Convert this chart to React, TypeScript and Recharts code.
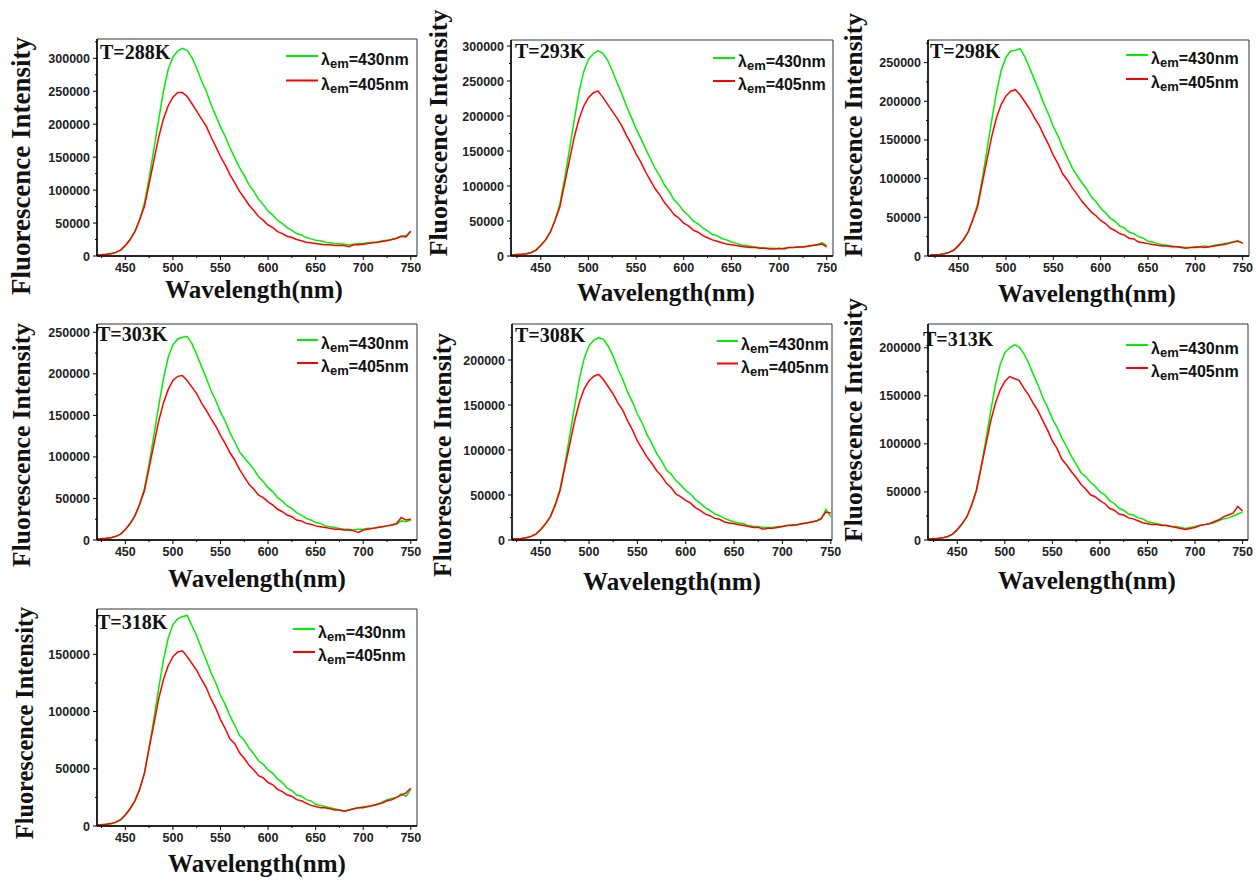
import React from 'react';
import { LineChart, Line, XAxis, YAxis, ReferenceArea, Legend } from 'recharts';

// Wavelength grid (nm)
const WAVELENGTHS = [
  420, 425, 430, 435, 440, 445, 450, 455, 460, 465,
  470, 475, 480, 485, 490, 495, 500, 505, 510, 515,
  520, 525, 530, 535, 540, 545, 550, 555, 560, 565,
  570, 575, 580, 585, 590, 595, 600, 605, 610, 615,
  620, 625, 630, 635, 640, 645, 650, 655, 660, 665,
  670, 675, 680, 685, 690, 695, 700, 705, 710, 715,
  720, 725, 730, 735, 740, 745, 750,
];

// Intensities in units of 1000 counts
const G288 = [
  1.5, 2, 2.5, 3.5, 5.5, 9, 16, 25, 37, 55,
  80, 118, 162, 207, 250, 283, 302, 311, 315, 312,
  301, 285, 266, 250, 230, 213, 196, 181, 164, 149,
  134, 122, 108, 98, 86, 78, 68, 62, 54, 49,
  43, 39, 34, 32, 28, 26, 24, 23, 21, 20,
  19, 18.5, 18, 17, 18, 19, 19, 20, 21, 21,
  23, 24, 25, 27, 30, 31, 37,
];
const R288 = [
  1.5, 2, 2.5, 3.5, 5.5, 9, 16, 25, 37, 55,
  75, 110, 145, 180, 208, 228, 241, 248, 248, 242,
  231, 220, 208, 197, 181, 166, 151, 138, 123, 111,
  98, 88, 77, 69, 60, 54, 47, 43, 37, 34,
  30, 28, 25, 23, 21, 20, 19, 18, 17, 17,
  16, 16, 16, 14, 17, 17, 18, 19, 20, 21,
  22, 23, 25, 27, 30, 29, 38,
];
const G293 = [
  1.5, 2, 2.5, 3, 5, 8.5, 15, 23, 34, 51,
  74, 110, 151, 193, 233, 263, 281, 289, 293, 290,
  280, 265, 248, 232, 214, 198, 182, 168, 153, 139,
  125, 114, 101, 92, 80, 73, 64, 58, 50, 46,
  40, 36, 31, 29, 25, 23, 20, 18, 16, 15,
  14, 13, 12, 11.5, 11, 11, 10, 11, 12, 12,
  13, 13, 14, 15, 16, 19, 15,
];
const R293 = [
  1.5, 2, 2.5, 3.3, 5, 8.5, 15, 23, 34, 51,
  70, 103, 136, 169, 195, 214, 226, 233, 236, 227,
  217, 207, 197, 186, 172, 160, 146, 134, 120, 108,
  96, 87, 76, 68, 59, 54, 47, 43, 37, 34,
  29, 26, 23, 21, 19, 17, 16, 15, 14, 13,
  12, 12, 11, 11, 10, 10, 11, 10, 12, 12,
  13, 13, 14, 15, 16, 17, 13,
];
const G298 = [
  1.3, 1.6, 2.1, 3, 4.8, 7.8, 13.7, 21, 31, 47,
  68, 100, 138, 176, 212, 240, 257, 265, 266, 268,
  257, 243, 228, 213, 197, 183, 167, 155, 140, 127,
  114, 104, 95, 87, 77, 70, 62, 56, 49, 45,
  39, 36, 31, 29, 25, 23, 19, 18, 16, 15,
  14, 13, 12, 12, 11, 11, 12, 12, 13, 12,
  14, 15, 16, 17, 18, 20, 16,
];
const R298 = [
  1.3, 1.7, 2.1, 3, 4.7, 7.7, 13.7, 21, 31, 47,
  64, 95, 125, 155, 179, 196, 207, 213, 215, 208,
  199, 190, 179, 169, 156, 144, 130, 119, 106, 98,
  88, 80, 71, 64, 57, 52, 46, 42, 36, 33,
  29, 27, 23, 22, 18, 17, 16, 15, 14, 13,
  13, 12, 12, 11, 10, 11, 11, 12, 11, 12,
  13, 14, 15, 16, 18, 19, 17,
];
const G303 = [
  1.2, 1.5, 2, 2.7, 4.4, 7, 12.5, 19.6, 29, 43,
  62, 92, 126, 161, 194, 220, 235, 242, 244, 245,
  236, 223, 209, 195, 180, 168, 154, 143, 129, 118,
  106, 99, 92, 85, 76, 70, 63, 58, 51, 47,
  41, 38, 33, 30, 26, 24, 21, 20, 17, 16,
  15, 14, 13, 13, 12, 13, 13, 14, 14, 15,
  16, 17, 18, 19, 23, 22, 24,
];
const R303 = [
  1.2, 1.6, 2, 2.8, 4.4, 7.1, 12.7, 19.8, 29, 43,
  59, 87, 115, 143, 165, 181, 192, 197, 198, 192,
  184, 176, 165, 156, 146, 137, 126, 116, 105, 96,
  85, 76, 67, 61, 54, 51, 46, 42, 37, 34,
  30, 28, 24, 23, 20, 19, 17, 16, 15, 14,
  13, 13, 12, 12, 11, 9, 12, 13, 14, 15,
  16, 17, 18, 20, 27, 24, 25,
];
const G308 = [
  1.2, 1.4, 1.8, 2.5, 4, 6.5, 11.5, 18, 26, 39,
  57, 84, 116, 148, 179, 202, 216, 222, 225, 223,
  215, 204, 190, 178, 164, 153, 140, 130, 117, 107,
  96, 88, 78, 73, 66, 61, 55, 51, 45, 41,
  36, 33, 29, 27, 24, 22, 20, 19, 18, 16,
  15, 15, 14, 14, 14, 15, 15, 16, 17, 17,
  18, 19, 20, 21, 23, 34, 26,
];
const R308 = [
  1.1, 1.5, 1.8, 2.5, 4, 6.6, 11.6, 18, 26, 39,
  55, 81, 106, 132, 153, 168, 177, 182, 184, 178,
  170, 162, 152, 144, 132, 122, 110, 101, 92, 85,
  77, 71, 63, 58, 51, 48, 44, 41, 36, 33,
  29, 27, 24, 23, 20, 19, 18, 17, 16, 15,
  14, 14, 12, 13, 13, 14, 15, 16, 16, 17,
  18, 19, 20, 21, 24, 31, 30,
];
const G313 = [
  1, 1.2, 1.6, 2.2, 3.6, 5.9, 10.4, 16, 24, 36,
  52, 76, 104, 133, 161, 182, 195, 200, 203, 201,
  194, 184, 172, 161, 148, 138, 126, 117, 106, 97,
  87, 79, 70, 66, 60, 56, 50, 47, 41, 38,
  33, 31, 27, 26, 23, 22, 19, 18, 17, 16,
  15, 14, 14, 13, 12, 13, 14, 15, 16, 17,
  18, 20, 22, 23, 25, 27, 29,
];
const R313 = [
  1, 1.3, 1.7, 2.4, 3.7, 6.1, 10.9, 17, 24, 36,
  51, 75, 99, 123, 142, 156, 165, 170, 168, 166,
  158, 151, 142, 134, 124, 114, 103, 95, 84, 78,
  71, 65, 58, 53, 47, 45, 41, 38, 33, 31,
  27, 26, 23, 22, 20, 18, 17, 16, 16, 15,
  15, 14, 13, 12, 11, 12, 13, 15, 16, 17,
  19, 21, 24, 26, 28, 35, 30,
];
const G318 = [
  0.9, 1.1, 1.5, 2, 3.3, 5.3, 9.3, 14.6, 21.6, 32,
  46, 69, 94, 120, 145, 164, 176, 181, 183, 184,
  175, 166, 155, 145, 134, 125, 114, 106, 96, 88,
  79, 75, 68, 63, 57, 54, 49, 46, 41, 38,
  33, 31, 27, 26, 23, 22, 19, 18, 17, 16,
  15, 14, 13, 14, 15, 16, 17, 17, 18, 19,
  21, 23, 24, 25, 28, 26, 32,
];
const R318 = [
  0.9, 1.2, 1.5, 2.1, 3.4, 5.5, 9.8, 15.3, 22, 32,
  46, 68, 89, 111, 128, 140, 148, 152, 153, 148,
  142, 136, 128, 121, 111, 103, 93, 85, 76, 72,
  64, 59, 53, 49, 44, 42, 38, 36, 32, 30,
  27, 26, 23, 22, 20, 18, 17, 16, 16, 15,
  14, 14, 13, 14, 15, 16, 16, 17, 18, 19,
  20, 22, 23, 25, 27, 29, 33,
];

const TEMPERATURE_LABELS = ['T=288K', 'T=293K', 'T=298K', 'T=303K', 'T=308K', 'T=313K', 'T=318K'];
const SERIES_NAMES = ['λem=430nm', 'λem=405nm'];
const X_TICKS = [425, 450, 475, 500, 525, 550, 575, 600, 625, 650, 675, 700, 725, 750];
const Y_TICK_CANDIDATES = [
  0, 25000, 50000, 75000, 100000, 125000, 150000, 175000, 200000,
  225000, 250000, 275000, 300000, 325000,
];
const X_TITLE = 'Wavelength(nm)';
const Y_TITLE = 'Fluorescence Intensity';

const GREEN = '#00ee00';
const RED = '#ff0000';
const SANS = "'Liberation Sans', Arial, sans-serif";
const SERIF = "'Liberation Serif', 'Times New Roman', serif";

const ML = 90;
const MT = 10;
const MR = 14;
const MB = 50;
const YAXIS_W = 60;
const XAXIS_H = 30;

type PanelLayout = {
  box: { l: number; t: number; r: number; b: number };
  xDomain: [number, number];
  yMax: number;
  legend: { x: number; y: number; len: number; gap: number };
  tLabel: { x: number; y: number };
  xTitle: { cx: number; y: number };
  yTitle: { x: number; cy: number; size: number };
};

const LAYOUTS: PanelLayout[] = [
  { box: { l: 97, t: 39, r: 417, b: 256 }, xDomain: [420.2, 756.5], yMax: 329300,
    legend: { x: 286, y: 56, len: 32, gap: 24.5 }, tLabel: { x: 100, y: 59 },
    xTitle: { cx: 254, y: 298 }, yTitle: { x: 30, cy: 166, size: 27 } },
  { box: { l: 511, t: 40, r: 833, b: 256 }, xDomain: [418.8, 756.6], yMax: 308600,
    legend: { x: 713, y: 57.5, len: 22, gap: 23 }, tLabel: { x: 515, y: 58 },
    xTitle: { cx: 666, y: 301 }, yTitle: { x: 447, cy: 133, size: 25.8 } },
  { box: { l: 928, t: 40, r: 1249, b: 256 }, xDomain: [417.6, 756.7], yMax: 279200,
    legend: { x: 1126, y: 55, len: 22, gap: 24 }, tLabel: { x: 930, y: 58 },
    xTitle: { cx: 1087, y: 302 }, yTitle: { x: 862, cy: 135, size: 25.5 } },
  { box: { l: 97, t: 324, r: 417, b: 540 }, xDomain: [420.2, 756.5], yMax: 260000,
    legend: { x: 297, y: 340, len: 21, gap: 23 }, tLabel: { x: 97, y: 341 },
    xTitle: { cx: 257, y: 587 }, yTitle: { x: 30, cy: 445, size: 25.5 } },
  { box: { l: 512, t: 324, r: 832, b: 540 }, xDomain: [420.3, 751.3], yMax: 240000,
    legend: { x: 717, y: 341, len: 21, gap: 22.5 }, tLabel: { x: 515, y: 342 },
    xTitle: { cx: 672, y: 590 }, yTitle: { x: 451, cy: 455, size: 25.5 } },
  { box: { l: 928, t: 324, r: 1248, b: 540 }, xDomain: [419.2, 755.7], yMax: 224700,
    legend: { x: 1126, y: 345, len: 22, gap: 23 }, tLabel: { x: 923, y: 346 },
    xTitle: { cx: 1087, y: 589 }, yTitle: { x: 862, cy: 420, size: 25.5 } },
  { box: { l: 97, t: 609, r: 417, b: 826 }, xDomain: [420.2, 756.5], yMax: 189600,
    legend: { x: 293, y: 629, len: 22, gap: 23 }, tLabel: { x: 97, y: 629 },
    xTitle: { cx: 257, y: 872 }, yTitle: { x: 33, cy: 723, size: 24.3 } },
];

const SERIES: [number[], number[]][] = [
  [G288, R288], [G293, R293], [G298, R298], [G303, R303],
  [G308, R308], [G313, R313], [G318, R318],
];

const XTick = (props: any) => {
  const { x, y, payload } = props;
  const v = payload.value;
  const major = v % 50 === 0;
  return (
    <g>
      <line x1={x} x2={x} y1={y} y2={y + (major ? 4 : 2)} stroke="#000" strokeWidth={1} />
      {major && (
        <text x={x} y={y + 16} textAnchor="middle" fontSize={12.5} fontWeight="bold" fontFamily={SANS} fill="#222">
          {v}
        </text>
      )}
    </g>
  );
};

const YTick = (props: any) => {
  const { x, y, payload } = props;
  const v = payload.value;
  const major = v % 50000 === 0;
  return (
    <g>
      <line x1={x - (major ? 4 : 2)} x2={x} y1={y} y2={y} stroke="#000" strokeWidth={1} />
      {major && (
        <text x={x - 7} y={y + 4.5} textAnchor="end" fontSize={12.5} fontWeight="bold" fontFamily={SANS} fill="#222">
          {v}
        </text>
      )}
    </g>
  );
};

const makeLegend = (len: number, gap: number) => (props: any) => {
  const items = [...(props.payload || [])].sort((a: any, b: any) =>
    (a.dataKey === 'g' ? 0 : 1) - (b.dataKey === 'g' ? 0 : 1),
  );
  return (
    <svg width={len + 100} height={gap + 24} style={{ display: 'block', overflow: 'visible' }}>
      {items.map((it: any, i: number) => {
        const name = String(it.value);
        return (
          <g key={i}>
            <line x1={0} x2={len} y1={7 + i * gap} y2={7 + i * gap} stroke={it.color} strokeWidth={2} />
            <text x={len + 3} y={16 + i * gap} fontFamily={SANS} fontWeight="bold" fontSize={16} fill="#111">
              <tspan>{name.slice(0, 1)}</tspan>
              <tspan fontSize={13} dy={3}>{name.slice(1, 3)}</tspan>
              <tspan dy={-3}>{name.slice(3)}</tspan>
            </text>
          </g>
        );
      })}
    </svg>
  );
};

const Panel = ({ index }: { index: number }) => {
  const lay = LAYOUTS[index];
  const [green, red] = SERIES[index];
  const rows = WAVELENGTHS.map((w, i) => ({ w, g: green[i] * 1000, r: red[i] * 1000 }));
  const w = lay.box.r - lay.box.l;
  const h = lay.box.b - lay.box.t;
  const yTicks = Y_TICK_CANDIDATES.filter((v) => v <= lay.yMax);
  return (
    <div style={{ position: 'absolute', left: lay.box.l - ML, top: lay.box.t - MT }}>
      <LineChart
        width={w + ML + MR}
        height={h + MT + MB}
        data={rows}
        margin={{ top: MT, left: ML - YAXIS_W, right: MR, bottom: MB - XAXIS_H }}
      >
        <XAxis
          dataKey="w"
          type="number"
          domain={lay.xDomain}
          ticks={X_TICKS}
          interval={0}
          allowDataOverflow
          tick={(p: any) => <XTick {...p} />}
          tickLine={false}
          tickSize={0}
          tickMargin={0}
          height={XAXIS_H}
          axisLine={{ stroke: '#000', strokeWidth: 1.5 }}
        />
        <YAxis
          type="number"
          domain={[0, lay.yMax]}
          ticks={yTicks}
          interval={0}
          allowDataOverflow
          tick={(p: any) => <YTick {...p} />}
          tickLine={false}
          tickSize={0}
          tickMargin={0}
          width={YAXIS_W}
          axisLine={{ stroke: '#000', strokeWidth: 1.5 }}
        />
        <ReferenceArea
          x1={lay.xDomain[0]}
          x2={lay.xDomain[1]}
          y1={0}
          y2={lay.yMax}
          fill="none"
          fillOpacity={0}
          stroke="#333"
          strokeWidth={1}
        />
        <Line type="linear" dataKey="g" name={SERIES_NAMES[0]} stroke={GREEN} strokeWidth={1.5} dot={false} isAnimationActive={false} />
        <Line type="linear" dataKey="r" name={SERIES_NAMES[1]} stroke={RED} strokeWidth={1.5} dot={false} isAnimationActive={false} />
        <Legend
          layout="vertical"
          align="center"
          verticalAlign="middle"
          content={makeLegend(lay.legend.len, lay.legend.gap)}
          wrapperStyle={{
            left: lay.legend.x - lay.box.l + ML,
            top: lay.legend.y - lay.box.t + MT - 7,
            width: 'auto',
            height: 'auto',
          }}
        />
      </LineChart>
    </div>
  );
};

const Titles = () => (
  <svg width={1256} height={881} style={{ position: 'absolute', left: 0, top: 0, pointerEvents: 'none' }}>
    {LAYOUTS.map((lay, i) => (
      <g key={i}>
        <text x={lay.tLabel.x} y={lay.tLabel.y} fontFamily={SERIF} fontWeight="bold" fontSize={20} fill="#111">
          {TEMPERATURE_LABELS[i]}
        </text>
        <text x={lay.xTitle.cx} y={lay.xTitle.y} textAnchor="middle" fontFamily={SERIF} fontWeight="bold" fontSize={25} fill="#111">
          {X_TITLE}
        </text>
        <text
          x={lay.yTitle.x}
          y={lay.yTitle.cy}
          textAnchor="middle"
          transform={`rotate(-90 ${lay.yTitle.x} ${lay.yTitle.cy})`}
          fontFamily={SERIF}
          fontWeight="bold"
          fontSize={lay.yTitle.size}
          fill="#111"
        >
          {Y_TITLE}
        </text>
      </g>
    ))}
  </svg>
);

export default function App() {
  return (
    <div style={{ position: 'absolute', left: 0, top: 0, width: 1256, height: 881, background: '#fff', overflow: 'hidden' }}>
      {LAYOUTS.map((_, i) => (
        <Panel key={i} index={i} />
      ))}
      <Titles />
    </div>
  );
}
